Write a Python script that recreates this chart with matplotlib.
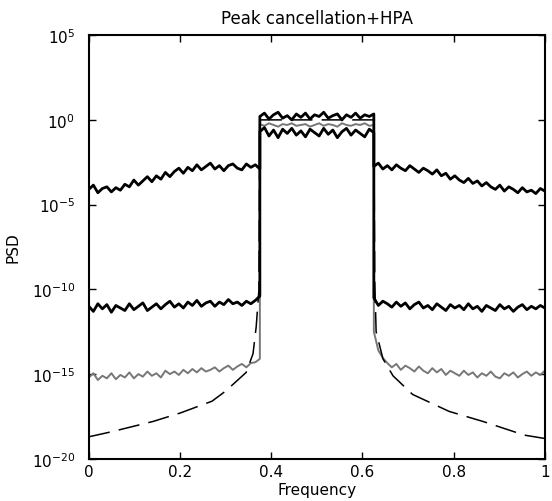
import numpy as np
import matplotlib
matplotlib.use('Agg')
import matplotlib.pyplot as plt

plt.rcParams['font.family'] = ['DejaVu Sans']

# frequency grids: left skirt, passband, right skirt
f_left = np.linspace(0, 0.375, 39)
f_band = np.linspace(0.375, 0.625, 26)
f_right = np.linspace(0.625, 1.0, 39)

# log10(PSD)
a_left = [-4.1,-3.85,-4.3,-4.05,-3.95,-4.25,-4.0,-4.15,-3.8,-3.95,-3.55,-3.85,-3.6,-3.35,-3.65,-3.3,-3.5,-3.1,-3.35,-3.05,
          -2.85,-3.15,-2.8,-3.0,-2.65,-2.95,-2.75,-2.55,-2.9,-2.7,-3.0,-2.7,-2.6,-2.85,-2.95,-2.6,-2.8,-2.65,-2.9]
a_band = [0.2,0.4,0.05,0.3,0.45,0.1,0.25,0.0,0.35,0.15,0.4,0.05,0.3,0.2,0.45,0.1,0.25,0.35,0.0,0.3,0.15,0.4,0.1,0.3,0.2,0.35]
a_right = [-2.75,-2.55,-2.9,-2.7,-2.95,-2.65,-2.85,-3.0,-2.7,-2.9,-3.1,-2.85,-3.0,-3.2,-2.95,-3.3,-3.15,-3.5,-3.3,-3.55,
           -3.7,-3.45,-3.75,-3.6,-3.9,-3.7,-3.95,-4.1,-3.85,-4.2,-3.95,-4.1,-4.3,-4.0,-4.25,-4.15,-4.35,-4.05,-4.2]

b_left = [-11.0,-11.3,-10.85,-11.15,-10.9,-11.35,-10.95,-11.1,-11.25,-10.85,-11.2,-11.0,-10.8,-11.25,-11.05,-10.85,-11.15,-10.9,-10.7,-11.05,
          -10.85,-11.1,-10.75,-10.95,-10.65,-11.0,-10.8,-10.7,-11.0,-10.75,-10.9,-10.6,-10.85,-10.75,-10.95,-10.7,-10.85,-10.65,-10.4]
b_band = [-0.7,-0.45,-0.95,-0.6,-1.05,-0.55,-0.8,-0.5,-0.9,-0.65,-1.0,-0.55,-0.75,-0.95,-0.5,-0.85,-0.6,-1.05,-0.7,-0.5,-0.9,-0.6,-0.8,-1.0,-0.55,-0.75]
b_right = [-10.5,-10.95,-10.7,-10.85,-11.05,-10.75,-11.0,-10.8,-11.15,-10.9,-10.75,-11.1,-10.95,-11.2,-10.85,-11.05,-11.25,-10.9,-11.1,-10.95,
           -11.2,-10.85,-11.15,-11.0,-11.3,-10.95,-11.1,-11.25,-10.9,-11.15,-11.0,-11.3,-11.05,-10.9,-11.2,-11.0,-11.15,-10.95,-11.1]

c_left = [-15.2,-14.95,-15.35,-15.1,-15.25,-14.95,-15.3,-15.05,-15.2,-14.9,-15.25,-15.0,-15.15,-14.85,-15.1,-14.95,-15.2,-14.8,-15.0,-14.85,
          -15.05,-14.75,-14.95,-14.7,-14.9,-14.65,-14.85,-14.75,-14.6,-14.85,-14.65,-14.5,-14.75,-14.55,-14.4,-14.6,-14.35,-14.3,-14.1]
c_band = [-0.25,-0.35,-0.2,-0.3,-0.4,-0.25,-0.3,-0.2,-0.35,-0.3,-0.25,-0.4,-0.3,-0.2,-0.35,-0.25,-0.3,-0.4,-0.2,-0.3,-0.35,-0.25,-0.3,-0.2,-0.35,-0.3]
c_right = [-12.5,-13.6,-14.05,-14.35,-14.6,-14.4,-14.75,-14.5,-14.65,-14.85,-14.55,-14.8,-14.95,-14.65,-14.9,-14.7,-15.05,-14.8,-14.95,-15.1,
           -14.8,-15.05,-14.9,-15.2,-14.95,-15.1,-14.85,-15.15,-15.25,-14.95,-15.1,-14.9,-15.2,-15.0,-14.85,-15.1,-14.9,-15.05,-14.8]

# ideal (dashed) spectrum
d_freq = [0, 0.05, 0.14, 0.2, 0.27, 0.3, 0.345, 0.36, 0.367, 0.373, 0.375, 0.625, 0.627, 0.63, 0.645, 0.667,
          0.71, 0.79, 0.865, 0.955, 1.0]
d_log = [-18.7, -18.4, -17.8, -17.3, -16.6, -16.0, -14.9, -13.8, -12.2, -10.0, 0.0, 0.0, -9.5, -12.5, -14.1, -15.1,
         -16.2, -17.2, -17.8, -18.6, -18.8]

freq = np.concatenate([f_left, f_band, f_right])

fig = plt.figure(figsize=(5.52, 5.02), dpi=100)
ax = fig.add_axes([0.161, 0.084, 0.826, 0.844])

ax.semilogy(freq, 10.0 ** np.array(c_left + c_band + c_right), color='#777777', lw=1.4)
ax.semilogy(freq, 10.0 ** np.array(a_left + a_band + a_right), color='black', lw=2.0)
ax.semilogy(freq, 10.0 ** np.array(b_left + b_band + b_right), color='black', lw=2.0)
ax.semilogy(d_freq, 10.0 ** np.array(d_log), color='black', lw=1.1, linestyle=(0, (14, 6)))

ax.set_xlim(0, 1)
ax.set_ylim(1e-20, 1e5)
ax.set_xticks([0, 0.2, 0.4, 0.6, 0.8, 1])
ax.set_xticklabels(['0', '0.2', '0.4', '0.6', '0.8', '1'])
ax.set_yticks([1e5, 1e0, 1e-5, 1e-10, 1e-15, 1e-20])
ax.yaxis.set_minor_locator(matplotlib.ticker.NullLocator())
ax.tick_params(direction='in', top=True, right=True, length=5, width=1, labelsize=11, pad=4)
ax.tick_params(axis='y', pad=10)
for s in ax.spines.values():
    s.set_linewidth(1.5)

ax.set_title('Peak cancellation+HPA', fontsize=12, pad=9)
ax.set_xlabel('Frequency', fontsize=11, labelpad=2)
ax.set_ylabel('PSD', fontsize=11, labelpad=8)

fig.savefig('out.png', dpi=100)
